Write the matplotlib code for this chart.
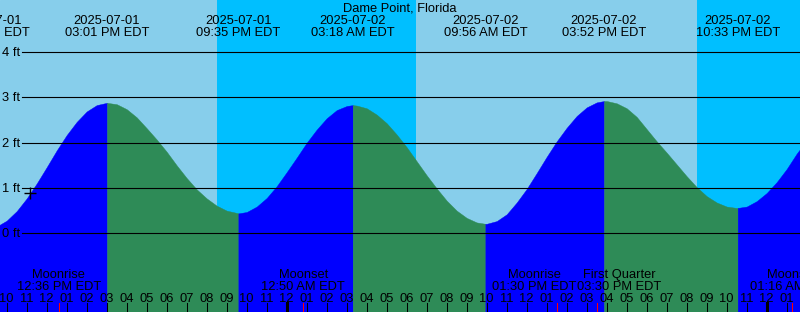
#import libraries
import matplotlib
matplotlib.use('Agg')
import matplotlib.pyplot as plt
import matplotlib.transforms as mtransforms
import numpy as np
import pandas as pd

# DATA #
station = 'Dame Point, Florida'

#water level every half hour (hours from 2025-07-01 00:00 EDT)
hours = [9 + 0.5 * i for i in range(83)]
level = [0.13, 0.15, 0.28, 0.49, 0.77, 1.10, 1.46, 1.83, 2.17, 2.46, 2.69, 2.83,
         2.88, 2.85, 2.74, 2.56, 2.32, 2.07, 1.80, 1.50, 1.22, 0.97, 0.77, 0.61, 0.50, 0.45,
         0.47, 0.59, 0.78, 1.04, 1.35, 1.67, 2.00, 2.29, 2.54, 2.72, 2.81,
         2.82, 2.76, 2.62, 2.43, 2.18, 1.90, 1.59, 1.28, 0.99, 0.72, 0.50, 0.34, 0.24,
         0.21, 0.27, 0.42, 0.68, 0.98, 1.33, 1.69, 2.03, 2.33, 2.59, 2.78, 2.89,
         2.92, 2.87, 2.76, 2.57, 2.30, 2.03, 1.78, 1.52, 1.26, 1.02, 0.82, 0.68, 0.59, 0.56,
         0.59, 0.71, 0.89, 1.13, 1.42, 1.76, 2.05]

#high / low tides
tide_date = ['2025-07-01', '2025-07-01', '2025-07-01', '2025-07-02', '2025-07-02', '2025-07-02', '2025-07-02']
tide_time = ['09:05 AM', '03:01 PM', '09:35 PM', '03:18 AM', '09:56 AM', '03:52 PM', '10:33 PM']
tide_level = [0.12, 2.88, 0.44, 2.83, 0.21, 2.92, 0.56]

#moon events
moon_name = ['Moonrise', 'Moonset', 'Moonrise', 'First Quarter', 'Moonset']
moon_date = ['2025-07-01', '2025-07-02', '2025-07-02', '2025-07-02', '2025-07-03']
moon_time = ['12:36 PM', '12:50 AM', '01:30 PM', '03:30 PM', '01:16 AM']

#night (sunset -> sunrise)
night_start = ['2025-07-01 08:31 PM', '2025-07-02 08:30 PM']
night_end = ['2025-07-02 06:28 AM', '2025-07-03 06:28 AM']

#current time marker
now_time = '2025-07-01 11:10 AM'
now_level = 0.90

ft_lines = [0, 1, 2, 3, 4]

#helper: hours since start of 2025-07-01
def hrs(s):
    d = pd.to_datetime(s, format='%Y-%m-%d %I:%M %p')
    return (d - pd.Timestamp('2025-07-01')).total_seconds() / 3600

#pixel row (from the top) -> axes fraction
def ypx(y):
    return 1 - y / 312.0

plt.rcParams['font.family'] = ['Liberation Sans', 'DejaVu Sans']
fs = 9.3

fig = plt.figure(figsize=(8, 3.12), dpi=100)
ax = fig.add_axes([0, 0, 1, 1])
ax.set_xlim(193.3 / 20, 993.3 / 20)
ymin, ymax = (233.3 - 312) / 45.3, 233.3 / 45.3
ax.set_ylim(ymin, ymax)
ax.axis('off')

#sky, day and night
ax.add_patch(plt.Rectangle((0, 0), 1, 1, transform=ax.transAxes, color='skyblue', zorder=0))
for a, b in zip(night_start, night_end):
    ax.axvspan(hrs(a), hrs(b), color='deepskyblue', lw=0, zorder=1)

#water, blue when rising and green when falling
tide_t = [hrs(d + ' ' + t) for d, t in zip(tide_date, tide_time)]
t_all = np.concatenate([hours, tide_t])
h_all = np.concatenate([level, tide_level])
order = np.argsort(t_all, kind='stable')
t_all, h_all = t_all[order], h_all[order]
cuts = [t_all[0]] + tide_t + [t_all[-1]]
for a, b in zip(cuts[:-1], cuts[1:]):
    m = (t_all >= a) & (t_all <= b)
    ts, hs = t_all[m], h_all[m]
    if len(ts) < 2:
        continue
    colour = 'blue' if hs[-1] > hs[0] else 'seagreen'
    ax.fill_between(ts, ymin, hs, color=colour, lw=0.3, zorder=2)

#foot lines and labels
blend = mtransforms.blended_transform_factory(ax.transAxes, ax.transData)
for f in ft_lines:
    ax.axhline(f, xmin=22 / 800, xmax=1, color='black', lw=0.8, zorder=3)
    ax.text(20 / 800, f - 4 / 45.3, '%d ft' % f, transform=blend, ha='right', va='baseline',
            fontsize=fs, zorder=4)

ax.plot(hrs(now_time), now_level, marker='+', ms=8, mew=1, color='black', zorder=5)

#title and tide labels
tx = mtransforms.blended_transform_factory(ax.transData, ax.transAxes)
fig.text(0.5, ypx(11.7), station, ha='center', va='baseline', fontsize=fs)
for t, d, tm in zip(tide_t, tide_date, tide_time):
    ax.text(t, ypx(24), d, transform=tx, ha='center', va='baseline', fontsize=fs, zorder=4)
    ax.text(t, ypx(36), tm + ' EDT', transform=tx, ha='center', va='baseline', fontsize=fs, zorder=4)

#hour ticks along the bottom
for h in range(9, 51):
    lw = 2.2 if h % 24 == 0 else 0.75
    ax.axvline(h, ymin=0, ymax=9 / 312, color='black', lw=lw, zorder=4)
    ax.text(h, ypx(302), '%02d' % ((h - 1) % 12 + 1), transform=tx, ha='center', va='baseline',
            fontsize=fs, zorder=4)

#moon events, red tick at the event and the label pushed aside if it hits the next one
moon_t = [hrs(d + ' ' + tm) for d, tm in zip(moon_date, moon_time)]
moon_txt = []
for t, n, tm in zip(moon_t, moon_name, moon_time):
    ax.axvline(t, ymin=0, ymax=9 / 312, color='red', lw=0.75, zorder=4)
    a = ax.text(t, ypx(278.3), n, transform=tx, ha='center', va='baseline', fontsize=fs, zorder=4)
    b = ax.text(t, ypx(290), tm + ' EDT', transform=tx, ha='center', va='baseline', fontsize=fs, zorder=4)
    moon_txt.append((a, b))

fig.canvas.draw()
r = fig.canvas.get_renderer()
px_per_hour = ax.transData.transform((1, 0))[0] - ax.transData.transform((0, 0))[0]
half = [max(a.get_window_extent(r).width, b.get_window_extent(r).width) / px_per_hour / 2
        for a, b in moon_txt]
centre = list(moon_t)
for i in range(1, len(centre)):
    overlap = (centre[i - 1] + half[i - 1]) - (centre[i] - half[i])
    if overlap > 0:
        centre[i - 1] -= overlap / 2
        centre[i] += overlap / 2
for (a, b), c in zip(moon_txt, centre):
    a.set_x(c)
    b.set_x(c)

plt.savefig('out.png', dpi=100)
